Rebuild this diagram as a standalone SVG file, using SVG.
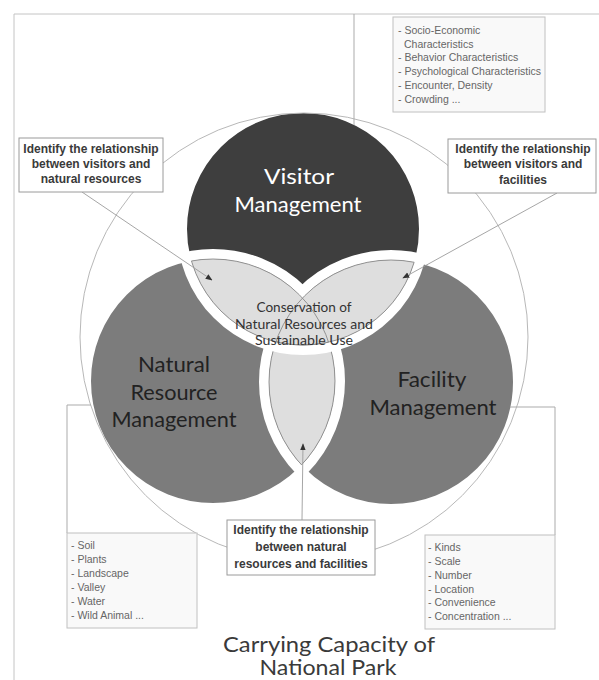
<svg xmlns="http://www.w3.org/2000/svg" width="599" height="680" viewBox="0 0 599 680">
<style>
.frame{stroke:#c4c4c4;stroke-width:1;fill:none}
.outer{fill:none;stroke:#b8b8b8;stroke-width:1}
.band{fill:none;stroke:#fff;stroke-width:10}
.lens{fill:#dedede}
.lensline{fill:none;stroke:#8a8a8a;stroke-width:0.9}
.conn{fill:none;stroke:#ababab;stroke-width:1}
.arrow{fill:none;stroke:#9c9c9c;stroke-width:0.9}
.ibox{fill:#fff;stroke:#9a9a9a;stroke-width:1}
.itxt{font-family:"Liberation Sans",Arial,sans-serif;font-weight:bold;font-size:12px;fill:#3a3a3a;text-anchor:middle}
.lbox{fill:#f9f9f9;stroke:#c0c0c0;stroke-width:1}
.ltxt{font-family:"Liberation Sans",Arial,sans-serif;font-size:10.5px;fill:#666}
.big{font-family:Lato,"DejaVu Sans",sans-serif;font-size:21px;text-anchor:middle}
.mid{font-family:Lato,"DejaVu Sans",sans-serif;font-size:13px;fill:#333;text-anchor:middle}
</style>
<defs>
<clipPath id="cV"><circle cx="303" cy="229" r="116"/></clipPath>
<clipPath id="cN"><circle cx="213" cy="381" r="122"/></clipPath>
<clipPath id="cF"><circle cx="391" cy="382" r="122"/></clipPath>
<marker id="ah" viewBox="0 0 10 10" refX="9" refY="5" markerWidth="7" markerHeight="7" orient="auto" markerUnits="userSpaceOnUse">
<path d="M0,1 L10,5 L0,9 z" fill="#333"/>
</marker>
</defs>

<g id="frame">
<line class="frame" x1="14" y1="14" x2="599" y2="14"/>
<line class="frame" x1="14" y1="14" x2="14" y2="680"/>
</g>

<g id="venn">
<circle cx="303" cy="229" r="121" fill="#3e3e3e"/>
<circle cx="213" cy="381" r="127" fill="#7c7c7c"/>
<circle cx="391" cy="382" r="127" fill="#7c7c7c"/>
<circle class="band" cx="213" cy="381" r="127"/>
<circle class="band" cx="391" cy="382" r="127"/>
<g id="lens-nf">
<g clip-path="url(#cF)"><circle class="lens" cx="213" cy="381" r="122"/></g>
<g clip-path="url(#cF)"><circle class="lensline" cx="213" cy="381" r="122"/></g>
<g clip-path="url(#cN)"><circle class="lensline" cx="391" cy="382" r="122"/></g>
</g>
<circle class="band" cx="303" cy="229" r="121"/>
<g id="lens-vn-vf">
<g clip-path="url(#cN)"><circle class="lens" cx="303" cy="229" r="116"/></g>
<g clip-path="url(#cF)"><circle class="lens" cx="303" cy="229" r="116"/></g>
<g clip-path="url(#cN)"><circle class="lensline" cx="303" cy="229" r="116"/></g>
<g clip-path="url(#cF)"><circle class="lensline" cx="303" cy="229" r="116"/></g>
<g clip-path="url(#cV)"><circle class="lensline" cx="213" cy="381" r="122"/></g>
<g clip-path="url(#cV)"><circle class="lensline" cx="391" cy="382" r="122"/></g>
</g>
<circle class="outer" cx="304" cy="337" r="224"/>
</g>

<g id="connectors">
<polyline class="conn" points="354,125 354,14"/>
<polyline class="conn" points="91,405 67,405 67,533"/>
<polyline class="conn" points="510,407 555,407 555,535"/>
<line class="arrow" x1="82" y1="192" x2="212" y2="280" marker-end="url(#ah)"/>
<line class="arrow" x1="557" y1="193" x2="403" y2="278" marker-end="url(#ah)"/>
<line class="arrow" x1="302" y1="520" x2="303" y2="444" marker-end="url(#ah)"/>
</g>

<g id="visitor">
<text class="big" fill="#ffffff" x="299" y="184" textLength="70" lengthAdjust="spacingAndGlyphs">Visitor</text>
<text class="big" fill="#ffffff" x="298" y="212" textLength="127" lengthAdjust="spacingAndGlyphs">Management</text>
</g>
<g id="natural">
<text class="big" fill="#222" x="174" y="372" textLength="72" lengthAdjust="spacingAndGlyphs">Natural</text>
<text class="big" fill="#222" x="174" y="400" textLength="87" lengthAdjust="spacingAndGlyphs">Resource</text>
<text class="big" fill="#222" x="174" y="427" textLength="125" lengthAdjust="spacingAndGlyphs">Management</text>
</g>
<g id="facility">
<text class="big" fill="#222" x="432" y="387" textLength="69" lengthAdjust="spacingAndGlyphs">Facility</text>
<text class="big" fill="#222" x="433" y="415" textLength="127" lengthAdjust="spacingAndGlyphs">Management</text>
</g>
<g id="center">
<text class="mid" x="304" y="312" textLength="95" lengthAdjust="spacingAndGlyphs">Conservation of</text>
<text class="mid" x="304" y="329" textLength="138" lengthAdjust="spacingAndGlyphs">Natural Resources and</text>
<text class="mid" x="304" y="345" textLength="98" lengthAdjust="spacingAndGlyphs">Sustainable Use</text>
</g>

<g id="box-vn">
<rect class="ibox" x="19" y="138" width="144" height="54"/>
<text class="itxt" x="91" y="153">Identify the relationship</text>
<text class="itxt" x="91" y="168">between visitors and</text>
<text class="itxt" x="91" y="183">natural resources</text>
</g>
<g id="box-vf">
<rect class="ibox" x="448" y="139" width="148" height="54"/>
<text class="itxt" x="523" y="153">Identify the relationship</text>
<text class="itxt" x="523" y="168">between visitors and</text>
<text class="itxt" x="523" y="184">facilities</text>
</g>
<g id="box-nf">
<rect class="ibox" x="227" y="520" width="148" height="55"/>
<text class="itxt" x="301" y="534">Identify the relationship</text>
<text class="itxt" x="301" y="551">between natural</text>
<text class="itxt" x="301" y="568">resources and facilities</text>
</g>

<g id="list-visitor">
<rect class="lbox" x="393" y="17" width="152" height="95"/>
<text class="ltxt" x="398" y="34">- Socio-Economic</text>
<text class="ltxt" x="404" y="48">Characteristics</text>
<text class="ltxt" x="398" y="61">- Behavior Characteristics</text>
<text class="ltxt" x="398" y="75">- Psychological Characteristics</text>
<text class="ltxt" x="398" y="89">- Encounter, Density</text>
<text class="ltxt" x="398" y="103">- Crowding ...</text>
</g>
<g id="list-natural">
<rect class="lbox" x="67" y="533" width="130" height="95"/>
<text class="ltxt" x="71" y="549">- Soil</text>
<text class="ltxt" x="71" y="563">- Plants</text>
<text class="ltxt" x="71" y="577">- Landscape</text>
<text class="ltxt" x="71" y="591">- Valley</text>
<text class="ltxt" x="71" y="605">- Water</text>
<text class="ltxt" x="71" y="619">- Wild Animal ...</text>
</g>
<g id="list-facility">
<rect class="lbox" x="425" y="535" width="130" height="94"/>
<text class="ltxt" x="428" y="551">- Kinds</text>
<text class="ltxt" x="428" y="565">- Scale</text>
<text class="ltxt" x="428" y="579">- Number</text>
<text class="ltxt" x="428" y="593">- Location</text>
<text class="ltxt" x="428" y="606">- Convenience</text>
<text class="ltxt" x="428" y="620">- Concentration ...</text>
</g>

<g id="title">
<text class="big" fill="#3a3a3a" x="329" y="652" textLength="212" lengthAdjust="spacingAndGlyphs">Carrying Capacity of</text>
<text class="big" fill="#3a3a3a" x="328" y="675" textLength="137" lengthAdjust="spacingAndGlyphs">National Park</text>
</g>
</svg>
